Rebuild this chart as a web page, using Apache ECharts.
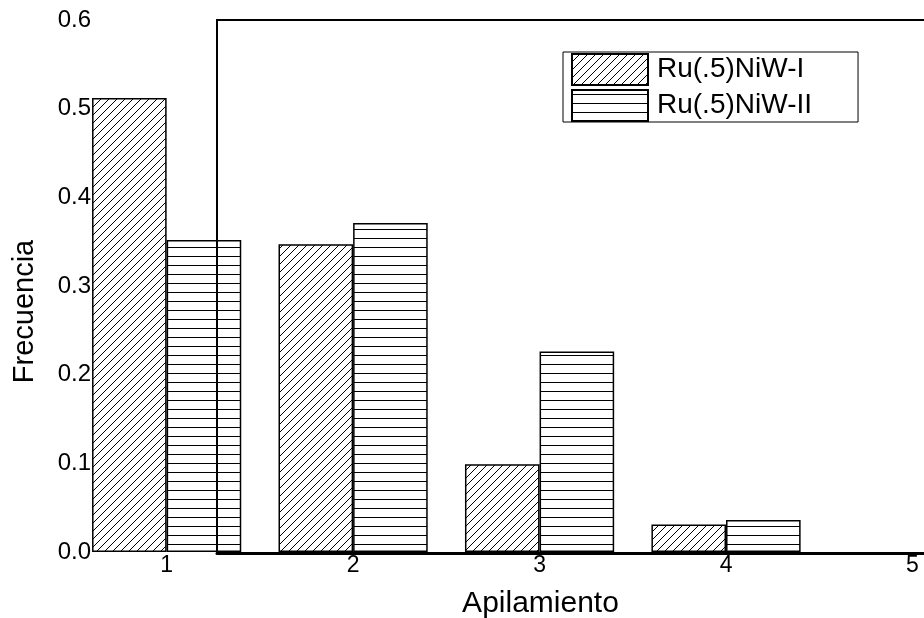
<!DOCTYPE html>
<html><head><meta charset="utf-8">
<script src="https://cdn.jsdelivr.net/npm/echarts@6/dist/echarts.min.js"></script>
<style>html,body{margin:0;padding:0;background:#fff}#c{width:924px;height:618px}</style>
</head><body><div id="c"></div>
<script>
// ---- data ----
const categories = [1, 2, 3, 4, 5];
const seriesNames = ['Ru(.5)NiW-I', 'Ru(.5)NiW-II'];
const valuesI = [0.512, 0.347, 0.099, 0.031, 0];
const valuesII = [0.352, 0.371, 0.226, 0.036, 0];
const xTickLabels = [1, 2, 3, 4, 5];
const xTitle = 'Apilamiento';
const yTitle = 'Frecuencia';

// ---- patterns ----
function diagPattern() {
  const c = document.createElement('canvas'); c.width = 8; c.height = 8;
  const g = c.getContext('2d');
  g.strokeStyle = '#000'; g.lineWidth = 1;
  g.beginPath();
  g.moveTo(-1, 9); g.lineTo(9, -1);
  g.moveTo(-1, 1); g.lineTo(1, -1);
  g.moveTo(7, 9); g.lineTo(9, 7);
  g.stroke();
  return c;
}
function horizPattern() {
  const c = document.createElement('canvas'); c.width = 4; c.height = 9;
  const g = c.getContext('2d');
  g.fillStyle = '#000'; g.fillRect(0, 4, 4, 1);
  return c;
}
const diag = { image: diagPattern(), repeat: 'repeat' };
const horiz = { image: horizPattern(), repeat: 'repeat' };

const FONT = 'Liberation Sans, Arial, sans-serif';
const GRID_LEFT = 93, GRID_W = 895;
const X_MIN = 0.605, X_MAX = 5.405;

function toData(vals) {
  return categories.map((c, i) => [c, vals[i]]).filter(d => d[1] > 0);
}

const chart = echarts.init(document.getElementById('c'), null, { renderer: 'canvas' });
chart.setOption({
  animation: false,
  backgroundColor: '#fff',
  grid: [
    { left: GRID_LEFT, top: 20, width: GRID_W, height: 532, outerBoundsMode: 'none', containLabel: false },
    { left: 217, top: 20, width: 720, height: 533, outerBoundsMode: 'none', containLabel: false,
      show: true, borderColor: '#000', borderWidth: 2, backgroundColor: 'transparent' }
  ],
  xAxis: [
    {
      type: 'value', gridIndex: 0, min: X_MIN, max: X_MAX,
      splitLine: { show: false }, axisLine: { show: false }, axisTick: { show: false },
      axisLabel: { customValues: xTickLabels, fontSize: 23, margin: 2, color: '#000', fontFamily: FONT },
      name: xTitle, nameLocation: 'middle', nameGap: 37,
      nameTextStyle: { fontSize: 30, color: '#000', fontFamily: FONT }
    },
    {
      type: 'value', gridIndex: 1, min: 0, max: 1,
      splitLine: { show: false }, axisTick: { show: false }, axisLabel: { show: false },
      axisLine: { show: true, lineStyle: { color: '#000', width: 3 } }
    }
  ],
  yAxis: [
    {
      type: 'value', gridIndex: 0, min: 0, max: 0.6, interval: 0.1,
      splitLine: { show: false }, axisLine: { show: false }, axisTick: { show: false },
      axisLabel: { fontSize: 24, margin: 2, color: '#000', fontFamily: FONT, formatter: v => v.toFixed(1) },
      name: yTitle, nameLocation: 'middle', nameGap: 54,
      nameTextStyle: { fontSize: 29, color: '#000', fontFamily: FONT, padding: [0, 51, 0, 0] }
    },
    { type: 'value', gridIndex: 1, min: 0, max: 1, show: false }
  ],
  legend: {
    orient: 'vertical', left: 563, top: 52,
    itemWidth: 76, itemHeight: 31, itemGap: 3,
    padding: [1, 46, 0, 8],
    borderColor: '#000', borderWidth: 1,
    icon: 'rect',
    textStyle: { fontSize: 28, lineHeight: 31, color: '#000', fontFamily: FONT, padding: [0, 0, 0, 4] },
    data: seriesNames
  },
  series: [
    {
      name: seriesNames[0], type: 'bar', xAxisIndex: 0, yAxisIndex: 0,
      barWidth: 74.6, barGap: '0%',
      data: toData(valuesI),
      itemStyle: { color: diag, borderColor: '#000', borderWidth: 1.5 }
    },
    {
      name: seriesNames[1], type: 'bar', xAxisIndex: 0, yAxisIndex: 0,
      barWidth: 74.6, barGap: '0%',
      data: toData(valuesII),
      itemStyle: { color: horiz, borderColor: '#000', borderWidth: 1.5 }
    }
  ]
});

// Calibrate: keep the bar axis extent at X_MIN..X_MAX even if the library widens it.
let setMin = X_MIN, setMax = X_MAX;
for (let k = 0; k < 8; k++) {
  const aMin = chart.convertFromPixel({ xAxisIndex: 0 }, GRID_LEFT);
  const aMax = chart.convertFromPixel({ xAxisIndex: 0 }, GRID_LEFT + GRID_W);
  if (Math.abs(aMin - X_MIN) < 1e-4 && Math.abs(aMax - X_MAX) < 1e-4) break;
  setMin -= (aMin - X_MIN);
  setMax -= (aMax - X_MAX);
  chart.setOption({ xAxis: [{ min: setMin, max: setMax }] });
}
</script>
</body></html>
